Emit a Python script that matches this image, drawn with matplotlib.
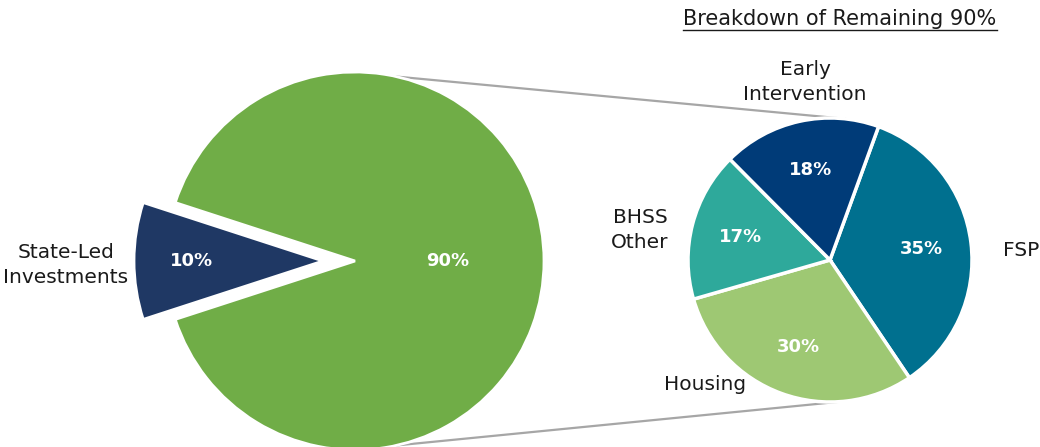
import numpy as np
import matplotlib
matplotlib.use("Agg")
from matplotlib import pyplot as plt

# main split
main_labels = ['State-Led\nInvestments', '']
main_values = [10, 90]
main_colors = ['#1F3864', '#70AD47']

# breakdown of the remaining 90%
sub_labels = ['FSP', 'Housing', 'BHSS\nOther', 'Early\nIntervention']
sub_values = [35, 30, 17, 18]
sub_colors = ['#00708F', '#9EC873', '#2EA99B', '#003B78']

title = 'Breakdown of Remaining 90%'

plt.rcParams['font.family'] = ['DejaVu Sans']

fig = plt.figure(figsize=(10.4, 4.47), dpi=100)
ax = fig.add_axes([0, 0, 1, 1])

# big pie (pixel-like data coords)
c1 = (355, 186)
r1 = 189
wedges1, texts1, pct1 = ax.pie(main_values, labels=main_labels, colors=main_colors,
                               center=c1, radius=r1, startangle=162,
                               explode=[32, 0], autopct='%d%%',
                               pctdistance=0.6, labeldistance=1.12,
                               wedgeprops=dict(edgecolor='white', linewidth=2),
                               textprops=dict(fontsize=14.5, color='#1a1a1a'), frame=True)
for t in pct1:
    t.set_color('white')
    t.set_fontweight('bold')
    t.set_fontsize(13)
pct1[0].set_position((192, 186))
pct1[1].set_position((448, 186))
texts1[0].set_position((66, 182))
texts1[0].set_ha('center')
texts1[0].set_linespacing(1.4)

# small pie
c2 = (830, 187)
r2 = 142
wedges2, texts2, pct2 = ax.pie(sub_values, labels=sub_labels, colors=sub_colors,
                               center=c2, radius=r2, startangle=70, counterclock=False,
                               autopct='%d%%', pctdistance=0.65, labeldistance=1.3,
                               wedgeprops=dict(edgecolor='white', linewidth=2.5),
                               textprops=dict(fontsize=14.5, color='#1a1a1a'), frame=True)
for t in pct2:
    t.set_color('white')
    t.set_fontweight('bold')
    t.set_fontsize(13)
label_pos = [(1021, 197), (705, 62), (640, 217), (805, 365)]
for t, p in zip(texts2, label_pos):
    t.set_position(p)
    t.set_ha('center')
    t.set_linespacing(1.4)

ax.set_xlim(0, 1040)
ax.set_ylim(0, 447)
ax.set_aspect('equal')
ax.axis('off')

# connector lines
def on_circle(c, r, a):
    return c[0] + r * np.cos(np.radians(a)), c[1] + r * np.sin(np.radians(a))

for a1, a2 in [(77.4, 84), (-77.4, -85)]:
    p1 = on_circle(c1, r1, a1)
    p2 = on_circle(c2, r2, a2)
    ax.plot([p1[0], p2[0]], [p1[1], p2[1]], color='#A6A6A6', lw=1.6, zorder=0)

# underlined title
tt = ax.text(840, 428, title, ha='center', va='center', fontsize=15, color='#1a1a1a')
fig.canvas.draw()
bb = tt.get_window_extent().transformed(ax.transData.inverted())
ax.plot([bb.x0, bb.x1], [bb.y0 - 1, bb.y0 - 1], color='#1a1a1a', lw=1)

fig.savefig('out.png', dpi=100)
